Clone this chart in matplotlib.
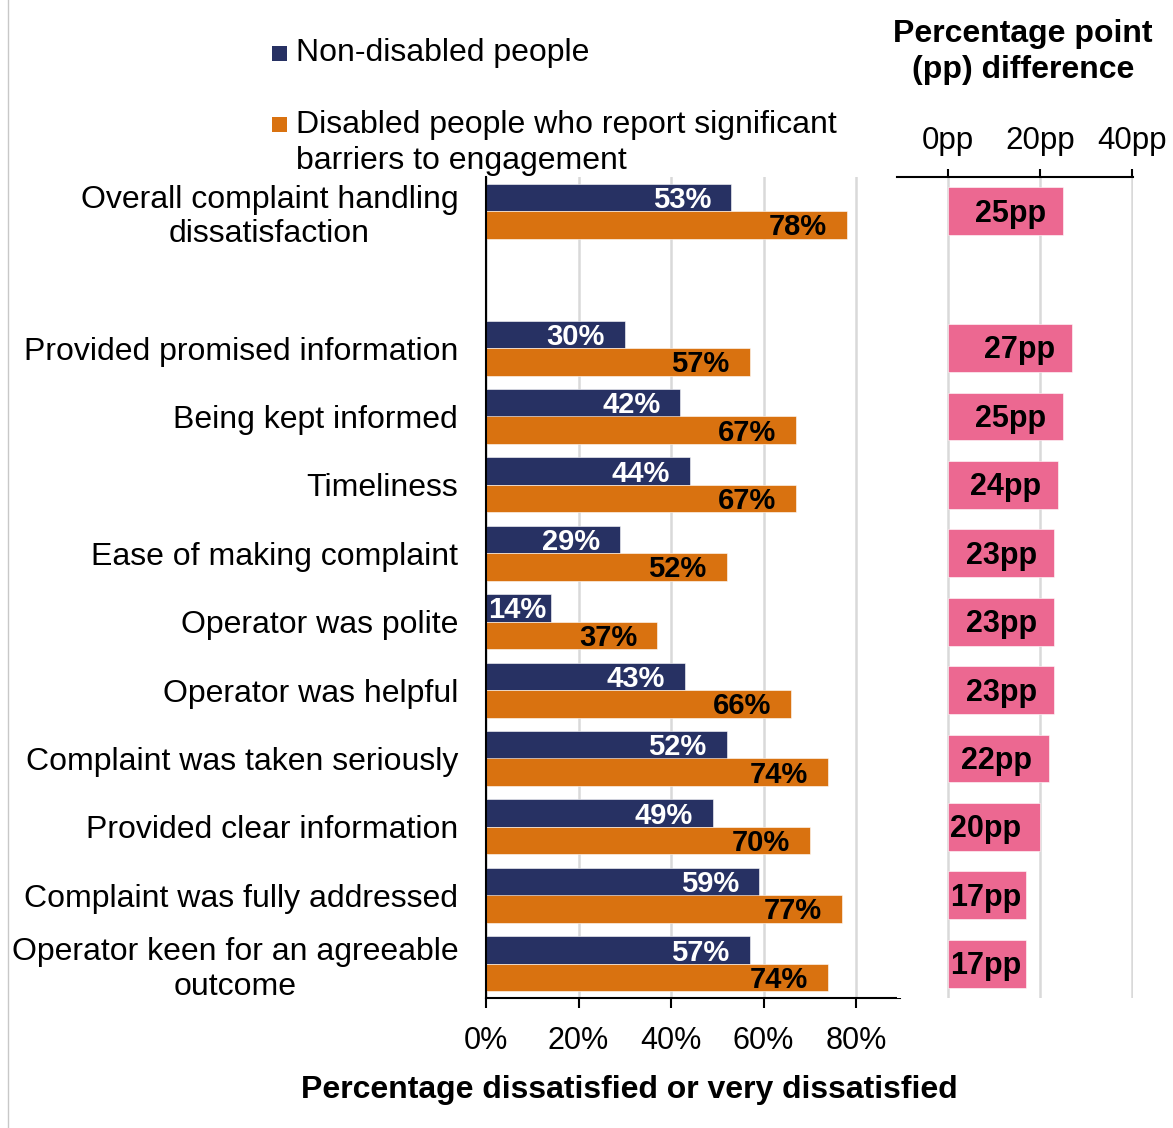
import matplotlib
matplotlib.use('Agg')
import matplotlib.pyplot as plt
from matplotlib.patches import Rectangle
from matplotlib.lines import Line2D
import numpy as np

plt.rcParams['font.family'] = ['Liberation Sans', 'DejaVu Sans']

categories = [
    "Overall complaint handling\ndissatisfaction",
    "Provided promised information",
    "Being kept informed",
    "Timeliness",
    "Ease of making complaint",
    "Operator was polite",
    "Operator was helpful",
    "Complaint was taken seriously",
    "Provided clear information",
    "Complaint was fully addressed",
    "Operator keen for an agreeable\noutcome",
]
non_disabled = [53, 30, 42, 44, 29, 14, 43, 52, 49, 59, 57]
disabled = [78, 57, 67, 67, 52, 37, 66, 74, 70, 77, 74]
pp_diff = [25, 27, 25, 24, 23, 23, 23, 22, 20, 17, 17]
x_ticks = [0, 20, 40, 60, 80]
pp_ticks = [0, 20, 40]
series_names = ["Non-disabled people",
                "Disabled people who report significant\nbarriers to engagement"]

NAVY = '#273163'
ORANGE = '#D97210'
PINK = '#EC6891'
GRID = '#D9D9D9'

W, H = 1173, 1128
fig = plt.figure(figsize=(W / 100, H / 100), dpi=100)

def fx(px):
    return px / W

def fy(py):
    return 1 - py / H

# first category separated by an empty slot
pos = np.array([0] + list(range(2, 2 + len(categories) - 1)), dtype=float)

top_px, bot_px = 177, 998
ax = fig.add_axes([fx(486), fy(bot_px), fx(900) - fx(486), fy(top_px) - fy(bot_px)])
ax.barh(pos - 0.2, non_disabled, height=0.405, color=NAVY, edgecolor='white', linewidth=0.4, zorder=2)
ax.barh(pos + 0.2, disabled, height=0.405, color=ORANGE, edgecolor='white', linewidth=0.4, zorder=2)
ax.set_ylim(len(categories) + 0.5, -0.5)
ax.set_xlim(0, 89.5)
ax.set_xticks(x_ticks)
ax.set_xticklabels([f"{v}%" for v in x_ticks])
ax.set_yticks(pos)
ax.set_yticklabels(categories)
for lab in ax.get_yticklabels():
    lab.set_multialignment('center')
    lab.set_linespacing(1.2)
ax.tick_params(axis='y', length=0, pad=20, labelsize=23)
ax.tick_params(axis='x', length=7, width=1.5, direction='out', pad=13, labelsize=22)
ax.set_axisbelow(True)
ax.xaxis.grid(True, color=GRID, linewidth=1.8)
for s in ['top', 'right']:
    ax.spines[s].set_visible(False)
for s in ['left', 'bottom']:
    ax.spines[s].set_linewidth(1.5)
    ax.spines[s].set_color('black')

off = 4.3
tw = 12.5
dy = 0.035
for p, v in zip(pos, non_disabled):
    if v - off - tw < 0.4:
        ax.text(0.4, p - 0.2 + dy, f"{v}%", ha='left', va='center', color='white',
                fontsize=21, fontweight='bold', zorder=3)
    else:
        ax.text(v - off, p - 0.2 + dy, f"{v}%", ha='right', va='center', color='white',
                fontsize=21, fontweight='bold', zorder=3)
for p, v in zip(pos, disabled):
    if v - off - tw < 0.4:
        ax.text(0.4, p + 0.2 + dy, f"{v}%", ha='left', va='center', color='black',
                fontsize=21, fontweight='bold', zorder=3)
    else:
        ax.text(v - off, p + 0.2 + dy, f"{v}%", ha='right', va='center', color='black',
                fontsize=21, fontweight='bold', zorder=3)

# right panel: percentage point difference
ax2 = fig.add_axes([fx(897), fy(bot_px), fx(1133) - fx(897), fy(top_px) - fy(bot_px)])
ax2.barh(pos, pp_diff, height=0.7, color=PINK, edgecolor='white', linewidth=0.4, zorder=2)
ax2.set_ylim(len(categories) + 0.5, -0.5)
ax2.set_xlim(-11.1, 40.2)
ax2.xaxis.tick_top()
ax2.set_xticks(pp_ticks)
ax2.set_xticklabels([f"{v}pp" for v in pp_ticks])
ax2.set_yticks([])
ax2.tick_params(axis='x', length=6, width=1.5, direction='out', pad=9, labelsize=22.5)
ax2.set_axisbelow(True)
ax2.xaxis.grid(True, color=GRID, linewidth=1.8)
for s in ['left', 'right', 'bottom']:
    ax2.spines[s].set_visible(False)
ax2.spines['top'].set_linewidth(1.5)
ax2.spines['top'].set_color('black')

poff = 3.7
ptw = 16.0
for p, v in zip(pos, pp_diff):
    if v - poff - ptw < 0.4:
        ax2.text(0.4, p + dy, f"{v}pp", ha='left', va='center', color='black',
                 fontsize=22, fontweight='bold', zorder=3)
    else:
        ax2.text(v - poff, p + dy, f"{v}pp", ha='right', va='center', color='black',
                 fontsize=22, fontweight='bold', zorder=3)

# titles
fig.text(fx(1023), fy(52), "Percentage point\n(pp) difference", ha='center', va='center',
         fontsize=23, fontweight='bold', linespacing=1.3)
fig.text(fx(629), fy(1090), "Percentage dissatisfied or very dissatisfied", ha='center',
         va='center', fontsize=23, fontweight='bold')

# legend
fig.patches.append(Rectangle((fx(272), fy(61)), fx(15), 15 / H, transform=fig.transFigure,
                             facecolor=NAVY, edgecolor='none'))
fig.text(fx(296), fy(53), series_names[0], ha='left', va='center', fontsize=23)
fig.patches.append(Rectangle((fx(272), fy(132)), fx(15), 15 / H, transform=fig.transFigure,
                             facecolor=ORANGE, edgecolor='none'))
fig.text(fx(296), fy(143), series_names[1], ha='left', va='center', fontsize=23,
         linespacing=1.3)

# frame edge on the left
fig.add_artist(Line2D([fx(8), fx(8)], [0, 1], transform=fig.transFigure,
                      color='#C8C8C8', linewidth=1))

fig.savefig('out.png', dpi=100)
